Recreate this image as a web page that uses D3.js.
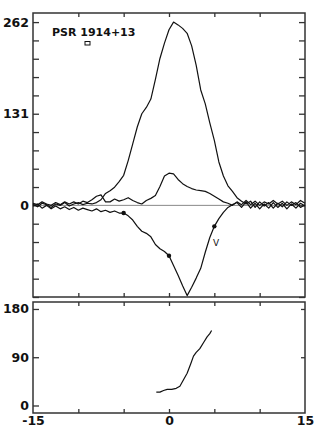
<!DOCTYPE html>
<html>
<head>
<meta charset="utf-8">
<script src="https://cdn.jsdelivr.net/npm/d3@7"></script>
<style>
  body { margin: 0; background: #fff; }
  text { font-family: "DejaVu Sans", sans-serif; fill: #111; }
</style>
</head>
<body>
<div id="main"></div>
<script>

// pulse phase (degrees of longitude)
var phase = [-15, -14.5, -14, -13.5, -13, -12.5, -12, -11.5, -11, -10.5,
             -10, -9.5, -9, -8.5, -8, -7.5, -7, -6.5, -6, -5.5,
             -5, -4.5, -4, -3.5, -3, -2.5, -2, -1.5, -1, -0.5,
             0, 0.5, 1, 1.5, 2, 2.5, 3, 3.5, 4, 4.5,
             5, 5.5, 6, 6.5, 7, 7.5, 8, 8.5, 9, 9.5,
             10, 10.5, 11, 11.5, 12, 12.5, 13, 13.5, 14, 14.5, 15];

// total intensity
var totalI = [2, -2, 3, 1, -3, 2, 0, 4, -1, 2,
              4, 1, 3, 2, 4, 8, 17, 21, 26, 34,
              43, 64, 88, 112, 131, 140, 152, 180, 210, 232,
              251, 262, 258, 253, 246, 228, 200, 165, 145, 118,
              93, 62, 42, 28, 20, 11, 6, 2, 6, -3,
              5, -1, 4, -4, 3, -2, 5, 0, 4, -3, 1];

// linear polarization
var linearL = [3, 1, 5, 2, 0, 4, 1, 5, 2, 5,
               2, 6, 4, 8, 13, 15, 5, 5, 9, 6,
               8, 11, 7, 4, 2, 7, 10, 14, 27, 42,
               46, 45, 37, 31, 27, 24, 22, 21, 20, 17,
               13, 9, 5, 3, 0, 5, 1, 7, 1, 6,
               0, 5, 2, 7, 2, 6, 0, 5, 1, 7, 3];

// circular polarization
var circularV = [-1, 2, -4, 0, -5, -1, -5, -2, -6, -3,
                 -7, -4, -6, -8, -5, -9, -7, -10, -8, -11,
                 -11, -15, -21, -30, -37, -40, -45, -56, -62, -66,
                 -72, -86, -100, -115, -129, -117, -104, -90, -67, -46,
                 -30, -19, -10, -3, 1, 4, -3, 5, -4, 3,
                 -5, 2, -4, 4, -3, 3, -5, 2, -4, 3, -1];

// marked points on V
var dotPhase = [-5, 0, 5];
var dotV = [-11, -72, -30];

// position angle
var paPhase = [-1.4, -1.0, -0.6, -0.2, 0.3, 0.8, 1.2, 1.6, 2.0, 2.4, 2.7, 3.0, 3.4, 3.8, 4.2, 4.5, 4.7];
var paDeg = [25, 25, 28, 30, 30, 32, 36, 48, 60, 78, 92, 99, 106, 117, 128, 134, 140];

var yTicksTop = [-131, -104.8, -78.6, -52.4, -26.2, 0, 26.2, 52.4, 78.6, 104.8, 131, 157.2, 183.4, 209.6, 235.8, 262];
var yLabelsTop = [0, 131, 262];
var yTicksBottom = [0, 90, 180];
var xTicks = [-10, -5, 0, 5, 10];
var xLabels = [-15, 0, 15];

var dimensions = {
    width: 319,
    height: 436,
    left: 33,
    right: 305,
    top: { y0: 13, y1: 297 },
    bottom: { y0: 302, y1: 413 }
}

var SVG = d3.select("#main")
  .append("svg")
    .attr("width", dimensions.width)
    .attr("height", dimensions.height)

var x = d3.scaleLinear()
  .domain([-15, 15])
  .range([dimensions.left, dimensions.right]);

var yTop = d3.scaleLinear()
  .domain([-131, 275])
  .range([dimensions.top.y1, dimensions.top.y0]);

var yBot = d3.scaleLinear()
  .domain([-14, 193])
  .range([dimensions.bottom.y1, dimensions.bottom.y0]);

function styleAxis(g) {
  g.select(".domain").remove();
  g.selectAll("line").attr("stroke", "#333").attr("stroke-width", 1.3);
  g.selectAll("text").attr("font-size", 12.5).attr("font-weight", "bold").attr("fill", "#111")
    .style("font-family", "'DejaVu Sans', sans-serif");
}

// ---- top panel ----
SVG.append("line")
  .attr("x1", dimensions.left).attr("x2", dimensions.right)
  .attr("y1", yTop(0)).attr("y2", yTop(0))
  .attr("stroke", "#888").attr("stroke-width", 1);

SVG.append("g")
  .attr("transform", "translate(" + dimensions.left + ",0)")
  .call(d3.axisLeft(yTop).tickValues(yTicksTop).tickSize(-6).tickPadding(4)
    .tickFormat(function(d){ return yLabelsTop.indexOf(d) >= 0 ? String(d) : ""; }))
  .call(styleAxis);

SVG.append("g")
  .attr("transform", "translate(" + dimensions.right + ",0)")
  .call(d3.axisRight(yTop).tickValues(yTicksTop).tickSize(-6).tickFormat(""))
  .call(styleAxis);

SVG.append("g")
  .attr("transform", "translate(0," + dimensions.top.y0 + ")")
  .call(d3.axisTop(x).tickValues(xTicks).tickSize(-4).tickFormat(""))
  .call(styleAxis);

SVG.append("g")
  .attr("transform", "translate(0," + dimensions.top.y1 + ")")
  .call(d3.axisBottom(x).tickValues(xTicks).tickSize(-4).tickFormat(""))
  .call(styleAxis);

SVG.append("rect")
  .attr("x", dimensions.left).attr("y", dimensions.top.y0)
  .attr("width", dimensions.right - dimensions.left)
  .attr("height", dimensions.top.y1 - dimensions.top.y0)
  .attr("fill", "none").attr("stroke", "#333").attr("stroke-width", 1.5);

var profile = function(values) {
  return d3.line()
    .x(function(d, i){ return x(phase[i]); })
    .y(function(d){ return yTop(d); })(values);
}

SVG.append("g")
  .selectAll("path")
  .data([totalI, linearL, circularV])
  .enter()
  .append("path")
    .attr("d", function(d){ return profile(d); })
    .attr("fill", "none")
    .attr("stroke", "#111")
    .attr("stroke-width", 1.2)
    .attr("stroke-linejoin", "round");

SVG.append("g")
  .selectAll("circle")
  .data(dotPhase)
  .enter()
  .append("circle")
    .attr("cx", function(d){ return x(d); })
    .attr("cy", function(d, i){ return yTop(dotV[i]); })
    .attr("r", 2.2)
    .attr("fill", "#111");

SVG.append("text")
  .attr("x", 52).attr("y", 36)
  .attr("font-size", 11)
  .attr("font-weight", "bold")
  .text("PSR 1914+13");

SVG.append("rect")
  .attr("x", 85).attr("y", 41.5)
  .attr("width", 5).attr("height", 3.5)
  .attr("fill", "none").attr("stroke", "#111").attr("stroke-width", 1);

SVG.append("text")
  .attr("x", 216).attr("y", 246)
  .attr("text-anchor", "middle")
  .attr("font-size", 9)
  .text("V");

// ---- bottom panel ----
SVG.append("g")
  .attr("transform", "translate(" + dimensions.left + ",0)")
  .call(d3.axisLeft(yBot).tickValues(yTicksBottom).tickSize(-6).tickPadding(4)
    .tickFormat(function(d){ return String(d); }))
  .call(styleAxis);

SVG.append("g")
  .attr("transform", "translate(" + dimensions.right + ",0)")
  .call(d3.axisRight(yBot).tickValues([90, 180]).tickSize(-4).tickFormat(""))
  .call(styleAxis);

SVG.append("g")
  .attr("transform", "translate(0," + dimensions.bottom.y0 + ")")
  .call(d3.axisTop(x).tickValues(xTicks).tickSize(-4).tickFormat(""))
  .call(styleAxis);

SVG.append("g")
  .attr("transform", "translate(0," + dimensions.bottom.y1 + ")")
  .call(d3.axisBottom(x).tickValues(xTicks).tickSize(-4).tickFormat(""))
  .call(styleAxis);

SVG.append("g")
  .attr("transform", "translate(0," + dimensions.bottom.y1 + ")")
  .call(d3.axisBottom(x).tickValues(xLabels).tickSize(0).tickPadding(3)
    .tickFormat(function(d){ return String(d); }))
  .call(styleAxis);

SVG.append("rect")
  .attr("x", dimensions.left).attr("y", dimensions.bottom.y0)
  .attr("width", dimensions.right - dimensions.left)
  .attr("height", dimensions.bottom.y1 - dimensions.bottom.y0)
  .attr("fill", "none").attr("stroke", "#333").attr("stroke-width", 1.5);

var paLine = d3.line()
  .x(function(d, i){ return x(paPhase[i]); })
  .y(function(d){ return yBot(d); });

SVG.append("path")
  .attr("d", paLine(paDeg))
  .attr("fill", "none")
  .attr("stroke", "#111")
  .attr("stroke-width", 1.2)
  .attr("stroke-linejoin", "round");

</script>
</body>
</html>
